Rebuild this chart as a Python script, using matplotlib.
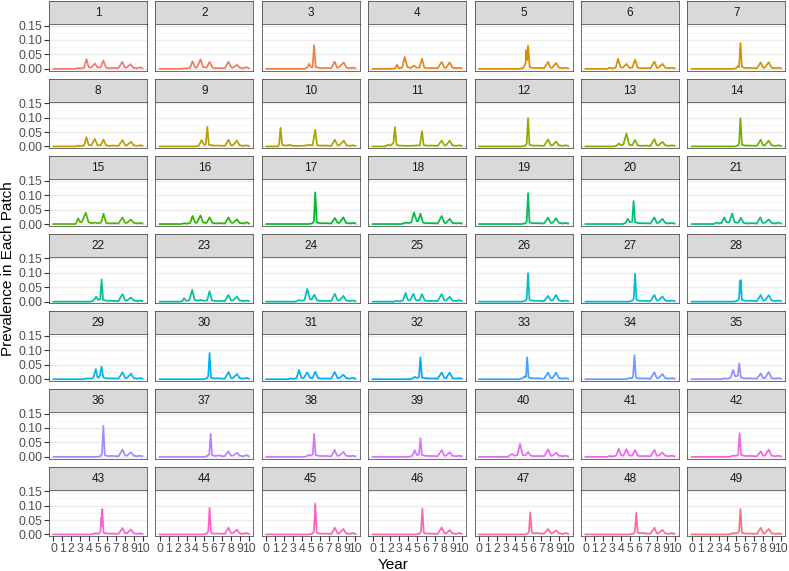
"""Facet grid of patch prevalence over ten years (7 x 7 small multiples)."""

from __future__ import annotations

import math

import matplotlib

matplotlib.use("Agg")
import matplotlib.pyplot as plt


FIG_W, FIG_H = 789, 571

PATCH_LABELS = [str(i) for i in range(1, 50)]

YEAR_TICKS = [0, 1, 2, 3, 4, 5, 6, 7, 8, 9, 10]
PREV_TICKS = [0.0, 0.05, 0.10, 0.15]
PREV_TICK_LABELS = ["0.00", "0.05", "0.10", "0.15"]

# (year, prevalence) vertices, patch 1..49
CURVES = [
    [(0, 0), (2.5, 0), (2.75, .003), (3.0, .001), (3.45, .004), (3.7, .034), (3.95, .006), (4.2, .004), (4.65, .018), (4.95, .005), (5.3, .005), (5.6, .029), (5.9, .004), (6.3, .002), (6.7, .003), (7.3, .002), (7.72, .024), (8.0, .005), (8.2, .004), (8.65, .016), (8.95, .004), (9.4, .002), (9.72, .005), (10, .002)],
    [(0, 0), (2.4, 0), (2.7, .002), (3.0, .001), (3.4, .004), (3.67, .026), (3.95, .005), (4.15, .004), (4.57, .033), (4.85, .006), (5.25, .004), (5.58, .024), (5.9, .004), (6.3, .002), (6.7, .003), (7.3, .002), (7.7, .025), (8.0, .005), (8.2, .004), (8.66, .014), (8.95, .004), (9.4, .002), (9.7, .006), (10, .002)],
    [(0, 0), (4.3, 0), (4.6, .004), (4.8, .017), (5.0, .006), (5.2, .006), (5.37, .082), (5.55, .006), (6.0, .003), (6.6, .003), (7.3, .002), (7.68, .025), (7.95, .004), (8.15, .005), (8.7, .022), (9.0, .004), (9.4, .002), (9.7, .004), (10, .002)],
    [(0, 0), (2.3, 0), (2.55, .002), (2.73, .014), (2.95, .002), (3.3, .004), (3.6, .041), (3.9, .006), (4.3, .003), (4.64, .011), (4.9, .004), (5.25, .004), (5.54, .035), (5.8, .004), (6.3, .002), (6.7, .003), (7.3, .002), (7.75, .024), (8.05, .004), (8.25, .004), (8.65, .022), (8.95, .004), (9.4, .002), (9.7, .004), (10, .002)],
    [(0, 0), (4.6, 0), (5.0, .004), (5.22, .02), (5.3, .065), (5.38, .03), (5.5, .081), (5.68, .006), (6.0, .003), (6.6, .003), (7.3, .002), (7.75, .024), (8.0, .004), (8.2, .004), (8.65, .02), (8.95, .004), (9.4, .002), (9.7, .004), (10, .002)],
    [(0, 0), (2.4, 0), (2.73, .004), (3.0, .001), (3.4, .004), (3.66, .035), (3.95, .005), (4.2, .004), (4.6, .017), (4.9, .004), (5.25, .004), (5.57, .032), (5.85, .004), (6.3, .002), (6.7, .003), (7.3, .002), (7.74, .025), (8.0, .004), (8.2, .004), (8.64, .017), (8.95, .004), (9.4, .002), (9.7, .004), (10, .002)],
    [(0, 0), (4.7, 0), (5.0, .003), (5.2, .01), (5.3, .006), (5.45, .09), (5.62, .006), (6.0, .003), (6.6, .003), (7.3, .002), (7.73, .022), (8.0, .004), (8.2, .004), (8.63, .023), (8.95, .004), (9.4, .002), (9.7, .004), (10, .002)],
    [(0, 0), (2.4, 0), (2.77, .003), (3.0, .001), (3.45, .004), (3.7, .032), (3.95, .005), (4.25, .004), (4.64, .026), (4.95, .004), (5.3, .004), (5.6, .024), (5.9, .004), (6.3, .002), (6.7, .003), (7.3, .002), (7.75, .022), (8.05, .004), (8.25, .004), (8.7, .016), (9.0, .004), (9.4, .002), (9.77, .004), (10, .002)],
    [(0, 0), (4.1, 0), (4.4, .004), (4.68, .022), (4.95, .006), (5.15, .006), (5.33, .068), (5.5, .006), (6.0, .003), (6.6, .003), (7.3, .002), (7.7, .023), (8.0, .004), (8.2, .004), (8.65, .02), (8.95, .004), (9.4, .002), (9.7, .004), (10, .002)],
    [(0, 0), (1.3, 0), (1.45, .008), (1.6, .065), (1.78, .006), (2.1, .003), (2.66, .005), (3.0, .002), (4.0, .002), (4.8, .005), (5.2, .004), (5.5, .058), (5.7, .005), (6.0, .003), (6.6, .003), (7.3, .002), (7.7, .023), (8.0, .004), (8.2, .004), (8.7, .02), (9.0, .004), (9.4, .002), (9.7, .004), (10, .002)],
    [(0, 0), (1.4, 0), (1.72, .006), (2.0, .003), (2.33, .012), (2.5, .067), (2.68, .006), (3.0, .003), (4.0, .002), (4.8, .003), (5.3, .004), (5.54, .053), (5.72, .005), (6.0, .003), (6.6, .003), (7.3, .002), (7.75, .02), (8.05, .004), (8.25, .004), (8.65, .02), (8.95, .004), (9.4, .002), (9.7, .004), (10, .002)],
    [(0, 0), (4.8, 0), (5.2, .003), (5.35, .01), (5.5, .098), (5.66, .006), (6.0, .003), (6.6, .003), (7.3, .002), (7.75, .024), (8.05, .004), (8.25, .004), (8.65, .017), (8.95, .004), (9.4, .002), (9.7, .004), (10, .002)],
    [(0, 0), (3.2, 0), (3.5, .003), (3.74, .01), (4.0, .004), (4.25, .006), (4.6, .045), (4.9, .006), (5.25, .004), (5.57, .022), (5.85, .004), (6.3, .002), (6.7, .003), (7.3, .002), (7.74, .025), (8.0, .004), (8.2, .004), (8.64, .016), (8.95, .004), (9.4, .002), (9.7, .004), (10, .002)],
    [(0, 0), (4.8, 0), (5.15, .003), (5.3, .008), (5.45, .098), (5.62, .006), (6.0, .003), (6.6, .003), (7.3, .002), (7.73, .023), (8.0, .004), (8.2, .004), (8.63, .02), (8.95, .004), (9.4, .002), (9.7, .004), (10, .002)],
    [(0, 0), (2.4, 0), (2.55, .003), (2.77, .02), (3.0, .006), (3.2, .008), (3.63, .039), (3.95, .006), (4.3, .003), (4.7, .005), (5.0, .003), (5.35, .005), (5.62, .036), (5.9, .004), (6.3, .002), (6.7, .003), (7.3, .002), (7.75, .023), (8.05, .004), (8.25, .004), (8.7, .016), (9.0, .004), (9.4, .002), (9.7, .004), (10, .002)],
    [(0, 0), (2.4, 0), (2.73, .003), (3.0, .001), (3.4, .004), (3.67, .028), (3.95, .005), (4.15, .004), (4.57, .03), (4.85, .005), (5.25, .004), (5.58, .023), (5.9, .004), (6.3, .002), (6.7, .003), (7.3, .002), (7.7, .023), (8.0, .005), (8.2, .004), (8.66, .016), (8.95, .004), (9.4, .002), (9.7, .006), (10, .002)],
    [(0, 0), (4.8, 0), (5.2, .003), (5.35, .01), (5.5, .11), (5.66, .006), (6.0, .003), (6.6, .003), (7.3, .002), (7.7, .021), (8.0, .004), (8.2, .004), (8.66, .023), (8.95, .004), (9.4, .002), (9.7, .004), (10, .002)],
    [(0, 0), (3.2, 0), (3.7, .005), (4.0, .003), (4.35, .006), (4.64, .04), (4.95, .01), (5.1, .01), (5.36, .036), (5.65, .005), (6.0, .003), (6.6, .003), (7.3, .002), (7.75, .028), (8.05, .004), (8.25, .004), (8.65, .018), (8.95, .004), (9.4, .002), (9.7, .004), (10, .002)],
    [(0, 0), (4.8, 0), (5.2, .003), (5.35, .01), (5.5, .107), (5.66, .006), (6.0, .003), (6.6, .003), (7.3, .002), (7.75, .022), (8.05, .004), (8.25, .004), (8.65, .02), (8.95, .004), (9.4, .002), (9.7, .004), (10, .002)],
    [(0, 0), (4.2, 0), (4.5, .004), (4.75, .018), (5.0, .006), (5.25, .008), (5.4, .08), (5.57, .006), (6.0, .003), (6.6, .003), (7.3, .002), (7.74, .023), (8.0, .004), (8.2, .004), (8.64, .018), (8.95, .004), (9.4, .002), (9.7, .004), (10, .002)],
    [(0, 0), (2.4, 0), (2.8, .005), (3.05, .002), (3.35, .004), (3.63, .023), (3.9, .006), (4.2, .006), (4.53, .037), (4.8, .006), (5.2, .004), (5.5, .022), (5.8, .004), (6.3, .002), (6.7, .003), (7.3, .002), (7.68, .023), (7.95, .004), (8.2, .004), (8.63, .016), (8.95, .004), (9.4, .002), (9.7, .005), (10, .002)],
    [(0, 0), (4.2, 0), (4.5, .004), (4.8, .017), (5.0, .006), (5.25, .008), (5.4, .077), (5.57, .006), (6.0, .003), (6.6, .003), (7.3, .002), (7.75, .026), (8.05, .004), (8.25, .004), (8.7, .014), (9.0, .004), (9.4, .002), (9.7, .004), (10, .002)],
    [(0, 0), (2.3, 0), (2.55, .003), (2.73, .012), (2.95, .003), (3.3, .004), (3.63, .041), (3.9, .006), (4.25, .003), (4.57, .006), (4.9, .003), (5.3, .004), (5.58, .036), (5.85, .004), (6.3, .002), (6.7, .003), (7.3, .002), (7.7, .023), (8.0, .004), (8.2, .004), (8.66, .017), (8.95, .004), (9.4, .002), (9.7, .004), (10, .002)],
    [(0, 0), (3.2, 0), (3.68, .005), (4.0, .003), (4.3, .006), (4.6, .044), (4.9, .008), (5.1, .008), (5.4, .024), (5.7, .004), (6.3, .002), (6.7, .003), (7.3, .002), (7.7, .027), (8.0, .004), (8.2, .004), (8.66, .02), (8.95, .004), (9.4, .002), (9.7, .004), (10, .002)],
    [(0, 0), (2.4, 0), (2.73, .003), (3.0, .001), (3.4, .004), (3.7, .03), (3.95, .005), (4.2, .004), (4.57, .027), (4.85, .005), (5.25, .004), (5.54, .026), (5.85, .004), (6.3, .002), (6.7, .003), (7.3, .002), (7.75, .026), (8.05, .004), (8.25, .004), (8.65, .017), (8.95, .004), (9.4, .002), (9.7, .005), (10, .002)],
    [(0, 0), (4.8, 0), (5.2, .003), (5.35, .01), (5.5, .099), (5.66, .006), (6.0, .003), (6.6, .003), (7.3, .002), (7.75, .02), (8.05, .004), (8.25, .004), (8.65, .023), (8.95, .004), (9.4, .002), (9.7, .004), (10, .002)],
    [(0, 0), (4.9, 0), (5.25, .003), (5.42, .01), (5.57, .097), (5.73, .006), (6.0, .003), (6.6, .003), (7.3, .002), (7.74, .023), (8.0, .004), (8.2, .004), (8.64, .018), (8.95, .004), (9.4, .002), (9.7, .004), (10, .002)],
    [(0, 0), (4.7, 0), (5.0, .002), (5.2, .005), (5.3, .01), (5.38, .07), (5.43, .03), (5.48, .075), (5.62, .006), (6.0, .003), (6.6, .003), (7.3, .002), (7.73, .023), (8.0, .004), (8.2, .004), (8.63, .022), (8.95, .004), (9.4, .002), (9.7, .004), (10, .002)],
    [(0, 0), (3.3, 0), (3.8, .003), (4.2, .002), (4.5, .006), (4.75, .035), (4.95, .006), (5.05, .005), (5.2, .01), (5.4, .044), (5.6, .006), (6.0, .003), (6.6, .003), (7.3, .002), (7.75, .024), (8.05, .004), (8.25, .004), (8.7, .019), (9.0, .004), (9.4, .002), (9.7, .004), (10, .002)],
    [(0, 0), (4.9, 0), (5.25, .003), (5.43, .01), (5.58, .091), (5.74, .006), (6.0, .003), (6.6, .003), (7.3, .002), (7.7, .025), (8.0, .004), (8.2, .004), (8.66, .018), (8.95, .004), (9.4, .002), (9.7, .005), (10, .002)],
    [(0, 0), (2.4, 0), (2.73, .003), (3.0, .001), (3.4, .004), (3.68, .032), (3.95, .005), (4.2, .004), (4.6, .024), (4.9, .005), (5.2, .004), (5.5, .026), (5.8, .004), (6.3, .002), (6.7, .003), (7.3, .002), (7.7, .025), (8.0, .004), (8.2, .004), (8.66, .016), (8.95, .004), (9.4, .002), (9.7, .005), (10, .002)],
    [(0, 0), (4.2, 0), (4.5, .003), (4.72, .008), (4.95, .004), (5.2, .008), (5.36, .076), (5.53, .006), (6.0, .003), (6.6, .003), (7.3, .002), (7.75, .023), (8.05, .004), (8.25, .004), (8.65, .023), (8.95, .004), (9.4, .002), (9.7, .004), (10, .002)],
    [(0, 0), (4.5, 0), (4.85, .003), (5.1, .01), (5.2, .006), (5.28, .01), (5.4, .076), (5.56, .006), (6.0, .003), (6.6, .003), (7.3, .002), (7.75, .023), (8.05, .004), (8.25, .004), (8.65, .023), (8.95, .004), (9.4, .002), (9.7, .004), (10, .002)],
    [(0, 0), (4.5, 0), (5.0, .005), (5.2, .003), (5.35, .01), (5.5, .083), (5.66, .006), (6.0, .003), (6.6, .003), (7.3, .002), (7.74, .024), (8.0, .004), (8.2, .004), (8.64, .018), (8.95, .004), (9.4, .002), (9.7, .004), (10, .002)],
    [(0, 0), (3.2, 0), (3.67, .003), (4.0, .002), (4.35, .005), (4.64, .032), (4.85, .01), (4.95, .01), (5.15, .012), (5.32, .055), (5.5, .006), (6.0, .003), (6.6, .003), (7.3, .002), (7.73, .02), (8.0, .004), (8.2, .004), (8.63, .025), (8.95, .004), (9.4, .002), (9.7, .004), (10, .002)],
    [(0, 0), (5.0, 0), (5.3, .003), (5.45, .01), (5.6, .108), (5.76, .006), (6.0, .003), (6.6, .003), (7.3, .002), (7.75, .025), (8.05, .004), (8.25, .004), (8.7, .016), (9.0, .004), (9.4, .002), (9.7, .004), (10, .002)],
    [(0, 0), (5.0, 0), (5.35, .003), (5.55, .01), (5.7, .08), (5.86, .006), (6.2, .003), (6.67, .005), (7.0, .002), (7.3, .003), (7.7, .019), (8.0, .004), (8.2, .004), (8.66, .014), (8.95, .004), (9.4, .002), (9.7, .006), (10, .002)],
    [(0, 0), (4.3, 0), (4.6, .003), (4.8, .007), (5.0, .004), (5.22, .008), (5.37, .08), (5.54, .006), (6.0, .003), (6.6, .003), (7.3, .002), (7.68, .024), (7.95, .004), (8.2, .004), (8.66, .017), (8.95, .004), (9.4, .002), (9.7, .004), (10, .002)],
    [(0, 0), (4.1, 0), (4.45, .004), (4.72, .023), (4.95, .006), (5.2, .008), (5.36, .065), (5.53, .006), (6.0, .003), (6.6, .003), (7.3, .002), (7.75, .023), (8.05, .004), (8.25, .004), (8.65, .016), (8.95, .004), (9.4, .002), (9.7, .004), (10, .002)],
    [(0, 0), (3.2, 0), (3.7, .01), (3.95, .004), (4.3, .006), (4.6, .045), (4.9, .006), (5.2, .005), (5.5, .017), (5.8, .004), (6.3, .002), (6.7, .003), (7.3, .002), (7.75, .026), (8.05, .004), (8.25, .004), (8.65, .014), (8.95, .004), (9.4, .002), (9.7, .004), (10, .002)],
    [(0, 0), (2.4, 0), (2.73, .003), (3.0, .001), (3.45, .004), (3.74, .028), (4.0, .005), (4.25, .004), (4.6, .027), (4.9, .005), (5.25, .004), (5.57, .024), (5.85, .004), (6.3, .002), (6.7, .003), (7.3, .002), (7.74, .024), (8.0, .004), (8.2, .004), (8.64, .015), (8.95, .004), (9.4, .002), (9.7, .004), (10, .002)],
    [(0, 0), (4.2, 0), (4.7, .005), (5.0, .003), (5.2, .008), (5.36, .082), (5.53, .006), (6.0, .003), (6.6, .003), (7.3, .002), (7.73, .019), (8.0, .004), (8.2, .004), (8.63, .025), (8.95, .004), (9.4, .002), (9.7, .004), (10, .002)],
    [(0, 0), (4.2, 0), (4.7, .004), (5.1, .003), (5.28, .01), (5.38, .06), (5.43, .03), (5.48, .088), (5.62, .006), (6.0, .003), (6.6, .003), (7.3, .002), (7.75, .022), (8.05, .004), (8.25, .004), (8.7, .017), (9.0, .004), (9.4, .002), (9.7, .004), (10, .002)],
    [(0, 0), (4.9, 0), (5.25, .003), (5.43, .01), (5.58, .092), (5.74, .006), (6.0, .003), (6.6, .003), (7.3, .002), (7.7, .023), (8.0, .004), (8.2, .004), (8.66, .017), (8.95, .004), (9.4, .002), (9.7, .005), (10, .002)],
    [(0, 0), (4.8, 0), (5.2, .003), (5.35, .01), (5.5, .107), (5.66, .006), (6.0, .003), (6.6, .003), (7.3, .002), (7.7, .023), (8.0, .004), (8.2, .004), (8.66, .019), (8.95, .004), (9.4, .002), (9.7, .005), (10, .002)],
    [(0, 0), (4.9, 0), (5.25, .003), (5.43, .01), (5.58, .09), (5.74, .006), (6.0, .003), (6.6, .003), (7.3, .002), (7.75, .024), (8.05, .004), (8.25, .004), (8.65, .015), (8.95, .004), (9.4, .002), (9.7, .005), (10, .002)],
    [(0, 0), (5.1, 0), (5.45, .003), (5.6, .01), (5.75, .077), (5.92, .006), (6.2, .004), (6.5, .005), (6.9, .003), (7.3, .003), (7.75, .019), (8.05, .004), (8.25, .004), (8.65, .014), (8.95, .004), (9.4, .002), (9.7, .005), (10, .002)],
    [(0, 0), (5.0, 0), (5.4, .003), (5.55, .01), (5.7, .075), (5.87, .006), (6.2, .004), (6.5, .005), (6.9, .003), (7.3, .003), (7.74, .023), (8.0, .004), (8.2, .004), (8.64, .016), (8.95, .004), (9.4, .002), (9.7, .005), (10, .002)],
    [(0, 0), (4.2, 0), (4.65, .005), (5.0, .003), (5.3, .01), (5.45, .088), (5.62, .006), (6.0, .003), (6.6, .003), (7.3, .002), (7.73, .023), (8.0, .004), (8.2, .004), (8.63, .019), (8.95, .004), (9.4, .002), (9.7, .004), (10, .002)],
]

N_COLS = 7
PANEL_LEFT = 49.0
PANEL_PITCH_X = 106.4
PANEL_W = 98.0
STRIP_TOP = 1.0
STRIP_H = 23.0
PANEL_H = 46.7
PANEL_PITCH_Y = 77.6

plt.rcParams["font.family"] = ["Liberation Sans", "DejaVu Sans"]


def _hue_colours(n: int) -> list[tuple[float, float, float]]:
    """ggplot-style hue palette (HCL, l=65, c=100) converted to sRGB."""

    xn, yn, zn = 95.047, 100.0, 108.883
    un = 4 * xn / (xn + 15 * yn + 3 * zn)
    vn = 9 * yn / (xn + 15 * yn + 3 * zn)
    lum, chroma = 65.0, 100.0
    colours = []
    for i in range(n):
        hue = math.radians(15 + 360 * i / n)
        u = chroma * math.cos(hue)
        v = chroma * math.sin(hue)
        y = yn * ((lum + 16) / 116) ** 3
        up = u / (13 * lum) + un
        vp = v / (13 * lum) + vn
        x = y * 9 * up / (4 * vp)
        z = y * (12 - 3 * up - 20 * vp) / (4 * vp)
        x, y, z = x / 100, y / 100, z / 100
        rgb_lin = (
            3.2404542 * x - 1.5371385 * y - 0.4985314 * z,
            -0.9692660 * x + 1.8760108 * y + 0.0415560 * z,
            0.0556434 * x - 0.2040259 * y + 1.0572252 * z,
        )
        rgb = []
        for c in rgb_lin:
            c = max(c, 0.0)
            c = 12.92 * c if c <= 0.0031308 else 1.055 * c ** (1 / 2.4) - 0.055
            rgb.append(min(max(c, 0.0), 1.0))
        colours.append(tuple(rgb))
    return colours


def _px_axes(fig, x: float, y: float, w: float, h: float):
    return fig.add_axes([x / FIG_W, 1 - (y + h) / FIG_H, w / FIG_W, h / FIG_H])


def main() -> None:
    fig = plt.figure(figsize=(FIG_W / 100, FIG_H / 100), dpi=100)
    colours = _hue_colours(len(CURVES))
    n_rows = math.ceil(len(CURVES) / N_COLS)

    for idx, curve in enumerate(CURVES):
        row, col = divmod(idx, N_COLS)
        left = PANEL_LEFT + col * PANEL_PITCH_X
        top = STRIP_TOP + row * PANEL_PITCH_Y

        strip = _px_axes(fig, left, top, PANEL_W, STRIP_H)
        strip.set_facecolor("#D9D9D9")
        strip.set_xticks([])
        strip.set_yticks([])
        for spine in strip.spines.values():
            spine.set_color("#333333")
            spine.set_linewidth(0.5)
        strip.text(0.5, 0.48, PATCH_LABELS[idx], ha="center", va="center",
                   fontsize=8.5, color="#1A1A1A", transform=strip.transAxes)

        ax = _px_axes(fig, left, top + STRIP_H, PANEL_W, PANEL_H)
        years = [p[0] for p in curve]
        prev = [p[1] for p in curve]
        ax.plot(years, prev, color=colours[idx], linewidth=1.25, solid_joinstyle="round")
        ax.set_xlim(-0.5, 10.5)
        ax.set_ylim(-0.0065, 0.1555)
        ax.set_yticks(PREV_TICKS)
        ax.set_yticks([0.025, 0.075, 0.125], minor=True)
        ax.set_xticks(YEAR_TICKS)
        ax.set_axisbelow(True)
        ax.grid(axis="y", which="major", color="#EBEBEB", linewidth=0.9)
        ax.grid(axis="y", which="minor", color="#F2F2F2", linewidth=0.5)
        ax.grid(axis="x", visible=False)
        for spine in ax.spines.values():
            spine.set_color("#333333")
            spine.set_linewidth(0.5)
        ax.tick_params(which="minor", length=0)
        ax.tick_params(which="major", length=3.4, width=0.8, color="#333333",
                       labelsize=8.8, labelcolor="#4D4D4D", pad=1.5)

        if col == 0:
            ax.set_yticklabels(PREV_TICK_LABELS)
        else:
            ax.tick_params(axis="y", which="major", left=False, labelleft=False)
        if row == n_rows - 1:
            ax.set_xticklabels([str(t) for t in YEAR_TICKS])
        else:
            ax.tick_params(axis="x", which="major", bottom=False, labelbottom=False)

    fig.text((PANEL_LEFT + 6 * PANEL_PITCH_X + PANEL_W / 2 + PANEL_LEFT) / 2 / FIG_W,
             1 - 565 / FIG_H, "Year", ha="center", va="center", fontsize=11)
    fig.text(8 / FIG_W, 1 - 269 / FIG_H, "Prevalence in Each Patch", ha="center",
             va="center", rotation=90, fontsize=11)

    fig.savefig("out.png", dpi=100)
    plt.close(fig)


if __name__ == "__main__":
    main()
